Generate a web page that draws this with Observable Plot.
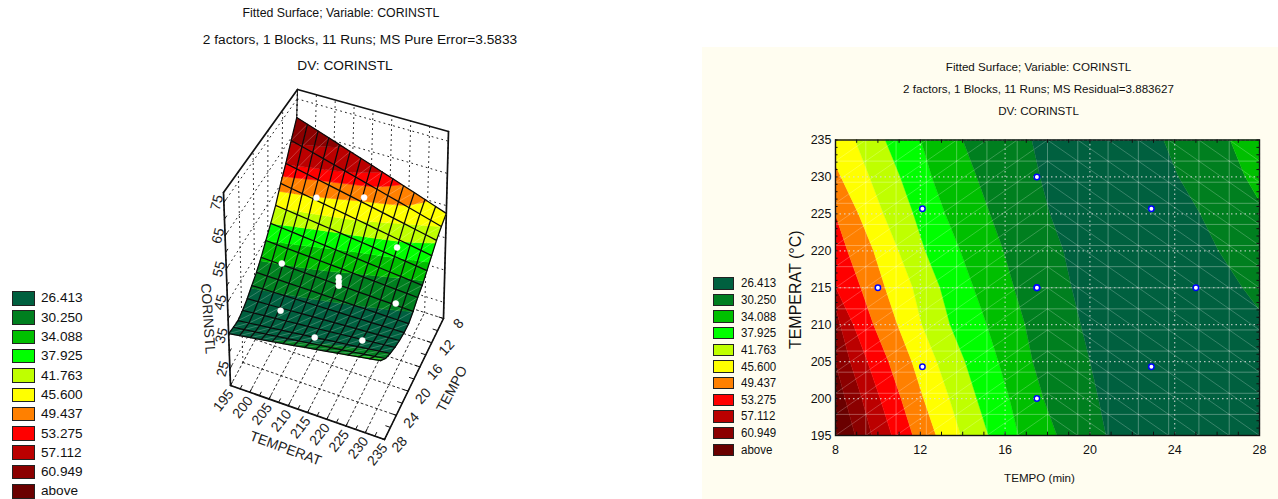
<!DOCTYPE html>
<html><head><meta charset="utf-8">
<script src="https://cdn.jsdelivr.net/npm/d3@7"></script>
<script src="https://cdn.jsdelivr.net/npm/@observablehq/plot@0.6"></script>
<style>
html,body{margin:0;padding:0;background:#fff;width:1278px;height:499px;overflow:hidden;font-family:"Liberation Sans",Arial,sans-serif;color:#111}
#root{position:relative;width:1278px;height:499px;overflow:hidden}
#panel{position:absolute;left:702px;top:47px;width:576px;height:452px;background:#fffdf0}
.t{position:absolute;white-space:nowrap;transform:translateX(-50%);line-height:1}
.sw{position:absolute;box-sizing:border-box;border:1.5px solid #222}
.lg{position:absolute;white-space:nowrap;line-height:1}
svg{position:absolute;overflow:visible}
</style></head><body><div id="root"><div id="panel"></div></div>
<script>
// ---------- shared legend ----------
const legendLabels = ["26.413","30.250","34.088","37.925","41.763","45.600","49.437","53.275","57.112","60.949","above"];
const bandColors = ["#00603f","#007f1f","#00bf00","#00ff00","#bfff00","#ffff00","#ff8000","#ff0000","#bb0000","#8b0000","#6a0000"];

// ---------- titles ----------
const titleLeft = ["Fitted Surface; Variable: CORINSTL","2 factors, 1 Blocks, 11 Runs; MS Pure Error=3.5833","DV: CORINSTL"];
const titleRight = ["Fitted Surface; Variable: CORINSTL","2 factors, 1 Blocks, 11 Runs; MS Residual=3.883627","DV: CORINSTL"];

// ---------- design points ----------
const pointTempo = [10,12.1,17.5,22.9,17.5,17.5,17.5,25,12.1,22.9,17.5];
const pointTemp  = [215,225.7,230,225.7,215,215,215,215,204.3,204.3,200];
const pointValue = [54,45.9,39.7,36.4,42.2,40.9,39.7,36.9,53.8,37.4,41];

// ---------- contour map: tempo of each band edge at these temperatures ----------
const contourTemps = [195,200,205,210,215,220,225,230,235];
const edgeAbove  = [8.94,8.47,8.0,7.53,7.06,6.6,6.1,5.6,5.2];
const edge60     = [9.73,9.26,8.71,8.24,7.76,7.3,6.8,6.35,5.9];
const edge57     = [10.67,10.12,9.53,8.86,8.03,7.45,6.82,6.19,5.56];
const edge53     = [11.66,11.11,10.52,9.81,9.21,8.58,8.0,7.37,6.74];
const edge49     = [12.76,12.17,11.62,10.94,10.36,9.81,9.1,8.27,7.45];
const edge45     = [13.93,13.39,12.8,12.09,11.66,10.99,10.28,9.62,8.94];
const edge41     = [15.23,14.68,14.13,13.42,12.95,12.25,11.69,11.07,10.36];
const edge37     = [16.65,16.22,15.7,15.15,14.53,13.9,13.19,12.56,12.04];
const edge34     = [18.46,17.83,17.32,16.96,16.44,15.94,15.31,14.68,14.02];
const edge30     = [20.78,20.42,20.03,19.59,19.16,18.77,18.14,17.67,17.28];
const edge26R    = [32.3,31.03,29.78,28.52,27.21,26.08,25.22,24.2,23.49];
const edge30R    = [35.75,34.18,32.6,31.5,30.56,29.46,28.36,27.34,26.63];
const farLeft = contourTemps.map(() => 0), farRight = contourTemps.map(() => 45);
const contourBands = [
  [farLeft,edgeAbove,10],[edgeAbove,edge60,9],[edge60,edge57,8],[edge57,edge53,7],[edge53,edge49,6],
  [edge49,edge45,5],[edge45,edge41,4],[edge41,edge37,3],[edge37,edge34,2],[edge34,edge30,1],
  [edge30,edge26R,0],[edge26R,edge30R,1],[edge30R,farRight,2]
];

// ---------- 3D surface: height on each TEMPO row (8 → 28) at both TEMPERAT ends ----------
const surfaceHeight195 = [69,64.1,59.2,55.3,50.8,47.6,44.7,41.9,39.7,38.1,36.5,35.4,34.7,35.1,35.6];
const surfaceHeight235 = [52.6,51,49.2,47,44.9,42.9,41.7,40,38.8,38.6,38.7,39.1,39.7,40.6,42.3];
const surfaceShade195  = [69,64.1,59.2,55.3,50.8,47.6,44.7,41.9,39.7,38.1,36.5,35.4,34.7,35.1,35.6];
const surfaceShade235  = [51.5,50.4,48,45.8,43.3,40.6,39,37.8,36.7,36,36,36.8,38,40.5,44];
const surfaceLevels = [37.8,41.4,44.7,47.6,50.4,53.7,56.7,59,63.5];
const surfaceBandColors = bandColors.slice(0,10);

// ---------- axes ----------
const tempoTicks = [8,12,16,20,24,28];
const tempTicks = [195,200,205,210,215,220,225,230,235];
const valueTicks = [25,35,45,55,65,75];
const axisFloor = 20, axisTop = 78;

// ---------- helpers ----------
const root = document.getElementById("root");
const font = '"Liberation Sans",Arial,sans-serif';
function addText(parent, lines, cxs, ys, size, stretches){
  lines.forEach((s,i)=>{const d=document.createElement("div");d.className="t";d.textContent=s;
    d.style.left=cxs[i]+"px";d.style.top=ys[i]+"px";d.style.fontSize=size+"px";
    d.style.transform=`translateX(-50%) scaleX(${stretches[i]})`;parent.appendChild(d);});
}
function addLegend(x,w,yTop,h,pitch,tx,size,stretch){
  legendLabels.forEach((s,i)=>{
    const b=document.createElement("div");b.className="sw";
    Object.assign(b.style,{left:x+"px",top:(yTop+i*pitch)+"px",width:w+"px",height:h+"px",background:bandColors[i]});
    root.appendChild(b);
    const l=document.createElement("div");l.className="lg";l.textContent=s;
    Object.assign(l.style,{left:tx+"px",top:(yTop+i*pitch+h/2-size/2)+"px",fontSize:size+"px",transform:`scaleX(${stretch})`,transformOrigin:"left center"});
    root.appendChild(l);
  });
}
addText(root,titleLeft,[341,360,345],[6,32.5,58.5],13.7,[0.9,1,1]);
addText(root,titleRight,[1038.5,1038.5,1038.5],[61,82.5,105],11.6,[1,1,1]);
addLegend(12,23,291,14.5,19.3,41,13.6,1);
addLegend(713,21,277,12.5,16.65,741,12,0.96);

// ---------- 3D box projection ----------
const corner = {A:[230,385],B:[384,439],C:[443,318],D:[292,270],E:[223,192],F:[297,89],G:[448,131],H:[374,234]};
const mix=(a,b,f)=>a+(b-a)*f;
function project(temp,tempo,value){
  const u=(temp-195)/40,s=(28-tempo)/20,h=(value-axisFloor)/(axisTop-axisFloor);
  const at=i=>{
    const base=mix(mix(corner.A[i],corner.D[i],s),mix(corner.B[i],corner.C[i],s),u);
    const top =mix(mix(corner.E[i],corner.F[i],s),mix(corner.H[i],corner.G[i],s),u);
    return mix(base,top,h);
  };
  return {x:at(0),y:at(1)};
}
let segId=0;
const seg=(p,q)=>{segId++;return [{...project(...p),id:segId},{...project(...q),id:segId}];};

// walls
const wallLines=[];
for(const v of valueTicks){wallLines.push(...seg([195,28,v],[195,8,v]),...seg([195,8,v],[235,8,v]));}
for(const t of tempoTicks) wallLines.push(...seg([195,t,axisFloor],[195,t,axisTop]));
for(const T of tempTicks) wallLines.push(...seg([T,8,axisFloor],[T,8,axisTop]));
const floorLines=[];
for(const t of tempoTicks) floorLines.push(...seg([195,t,axisFloor],[235,t,axisFloor]));
for(const T of tempTicks) floorLines.push(...seg([T,28,axisFloor],[T,8,axisFloor]));
const boxLines=[
  ...seg([195,28,axisFloor],[235,28,axisFloor]),...seg([235,28,axisFloor],[235,8,axisFloor]),
  ...seg([195,28,axisFloor],[195,28,axisTop]),...seg([195,28,axisTop],[195,8,axisTop]),
  ...seg([195,8,axisTop],[235,8,axisTop]),...seg([235,8,axisTop],[235,8,axisFloor])
];
const backEdge=seg([195,8,axisFloor],[195,8,axisTop]);
const tickLines=[];
for(let T=195;T<=235;T+=2.5) tickLines.push(...seg([T,28,axisFloor],[T,27.4,axisFloor]));
for(let t=8;t<=28;t+=2) tickLines.push(...seg([235,t,axisFloor],[233.8,t,axisFloor]));
for(let v=25;v<=75;v+=5) tickLines.push(...seg([195,28,v],[195,27.4,v]));

// surface mesh
const rows=surfaceHeight195.length-1, cols=14;
const vertex=(j,k)=>{const u=j/cols;return {
  temp:195+40*u, tempo:8+20*k/rows,
  h:mix(surfaceHeight195[k],surfaceHeight235[k],u),
  v:mix(surfaceShade195[k],surfaceShade235[k],u)};};
const lerpV=(a,b,f)=>({temp:mix(a.temp,b.temp,f),tempo:mix(a.tempo,b.tempo,f),h:mix(a.h,b.h,f),v:mix(a.v,b.v,f)});
function clip(poly,level,above){
  const out=[];
  poly.forEach((p,i)=>{
    const q=poly[(i+1)%poly.length];
    const pin=above?p.v>=level:p.v<=level, qin=above?q.v>=level:q.v<=level;
    if(pin) out.push(p);
    if(pin!==qin) out.push(lerpV(p,q,(level-p.v)/(q.v-p.v)));
  });
  return out;
}
const surfacePieces=surfaceBandColors.map(()=>[]);
let pieceId=0;
for(let k=0;k<rows;k++)for(let j=0;j<cols;j++){
  const quad=[vertex(j,k),vertex(j+1,k),vertex(j+1,k+1),vertex(j,k+1)];
  surfaceBandColors.forEach((c,b)=>{
    let poly=quad;
    if(b>0) poly=clip(poly,surfaceLevels[b-1],true);
    if(poly.length&&b<surfaceLevels.length) poly=clip(poly,surfaceLevels[b],false);
    if(poly.length>2){pieceId++;poly.forEach(p=>surfacePieces[b].push({...project(p.temp,p.tempo,p.h),id:pieceId}));}
  });
}
const meshLines=[],meshDiag=[];
for(let k=0;k<=rows;k++)for(let j=0;j<=cols;j++){
  const p=vertex(j,k),P=project(p.temp,p.tempo,p.h);
  meshLines.push({...P,id:"r"+k,o:j},{...P,id:"c"+j,o:k});
}
const meshSorted=d3.sort(meshLines,d=>d.id,d=>d.o);
for(let k=0;k<rows;k++)for(let j=0;j<cols;j++){
  const a=vertex(j,k+1),b=vertex(j+1,k);segId++;
  meshDiag.push({...project(a.temp,a.tempo,a.h),id:segId},{...project(b.temp,b.tempo,b.h),id:segId});
}
const surfacePoints=pointTemp.map((T,i)=>project(T,pointTempo[i],pointValue[i]));

// labels
const textStyle={fontFamily:font,fill:"#222",fontSize:14,stroke:"none"};
const at=(T,t,v)=>project(T,t,v);
const tempLabels=tempTicks.map(T=>({...at(T,28,axisFloor),s:String(T)}));
const tempoLabels=tempoTicks.map(t=>({...at(235,t,axisFloor),s:String(t)}));
const valueLabels=valueTicks.map(v=>({...at(195,28,v),s:String(v)}));
const titleTemp={...at(215,28,axisFloor),s:"TEMPERAT"};
const titleTempo={...at(235,18,axisFloor),s:"TEMPO"};
const titleValue={...at(195,28,50),s:"CORINSTL"};

const px=[0,700],py=[0,499];
const left=Plot.plot({
  width:700,height:499,margin:0,
  x:{domain:px,range:px,axis:null},y:{domain:py,range:py,axis:null},
  style:{background:"transparent",fontFamily:font,left:"0",top:"0"},
  marks:[
    Plot.line(wallLines,{x:"x",y:"y",z:"id",stroke:"#222",strokeWidth:1,strokeDasharray:"1,4"}),
    Plot.line(floorLines,{x:"x",y:"y",z:"id",stroke:"#111",strokeWidth:0.9,strokeDasharray:"2,3"}),
    Plot.line(backEdge,{x:"x",y:"y",stroke:"#111",strokeWidth:1}),
    Plot.line(tickLines,{x:"x",y:"y",z:"id",stroke:"#111",strokeWidth:1}),
    Plot.line(boxLines,{x:"x",y:"y",z:"id",stroke:"#111",strokeWidth:1.7}),
    ...surfaceBandColors.map((c,b)=>Plot.line(surfacePieces[b],{x:"x",y:"y",z:"id",fill:c,stroke:c,strokeWidth:0.6})),
    Plot.line(meshDiag,{x:"x",y:"y",z:"id",stroke:"#fff",strokeOpacity:0.28,strokeWidth:0.8}),
    Plot.line(meshSorted,{x:"x",y:"y",z:"id",stroke:"#0a0a0a",strokeWidth:1.25}),
    Plot.dot(surfacePoints,{x:"x",y:"y",r:3,fill:"#fff",stroke:"#fff",strokeWidth:0.5}),
    Plot.text(tempLabels,{x:"x",y:"y",text:"s",dx:-7,dy:15,rotate:-52,...textStyle}),
    Plot.text(tempoLabels,{x:"x",y:"y",text:"s",dx:15,dy:5,rotate:-48,...textStyle}),
    Plot.text(valueLabels,{x:"x",y:"y",text:"s",dx:-7,dy:0,rotate:-75,...textStyle}),
    Plot.text([titleTemp],{x:"x",y:"y",text:"s",dx:-22,dy:36,rotate:20,...textStyle}),
    Plot.text([titleTempo],{x:"x",y:"y",text:"s",dx:38,dy:10,rotate:-62,...textStyle}),
    Plot.text([titleValue],{x:"x",y:"y",text:"s",dx:-19,dy:33,rotate:86,...textStyle})
  ]
});
root.appendChild(left);

// ---------- contour map ----------
const contourRows=contourBands.map(([lo,hi,c],b)=>({c:bandColors[c],rows:contourTemps.map((T,i)=>({T,lo:lo[i],hi:hi[i]}))}));
const meshTempos=d3.range(15).map(i=>8+20*i/14);
const meshTemps=d3.range(15).map(i=>195+40*i/14);
const diag=[];
let did=0;
for(let i=0;i<14;i++)for(let j=0;j<14;j++){
  did++;
  if(meshTempos[i]<17.9){diag.push({x:meshTempos[i],y:meshTemps[j],id:did},{x:meshTempos[i+1],y:meshTemps[j+1],id:did});}
  else{diag.push({x:meshTempos[i],y:meshTemps[j+1],id:did},{x:meshTempos[i+1],y:meshTemps[j],id:did});}
}
const right=Plot.plot({
  width:576,height:452,marginLeft:133,marginRight:19,marginTop:92.5,marginBottom:64,
  x:{domain:[8,28]},y:{domain:[195,235]},
  style:{background:"transparent",fontFamily:font,left:"702px",top:"47px"},
  marks:[
    ...contourRows.map(b=>Plot.areaX(b.rows,{y:"T",x1:"lo",x2:"hi",fill:b.c,stroke:b.c,strokeWidth:0.4,clip:true})),
    Plot.ruleX(meshTempos,{stroke:"#fff",strokeOpacity:0.3,strokeWidth:1}),
    Plot.ruleY(meshTemps,{stroke:"#fff",strokeOpacity:0.3,strokeWidth:1}),
    Plot.line(diag,{x:"x",y:"y",z:"id",stroke:"#fff",strokeOpacity:0.28,strokeWidth:0.8}),
    Plot.ruleX(tempoTicks,{stroke:"#ddd",strokeWidth:1.2,strokeOpacity:0.8,strokeDasharray:"1.5,3"}),
    Plot.ruleY(tempTicks,{stroke:"#ddd",strokeWidth:1.2,strokeOpacity:0.8,strokeDasharray:"1.5,3"}),
    Plot.ruleX(d3.range(8,29),{x:d=>d,y1:195,y2:195.45,stroke:"#111"}),
    Plot.ruleX(d3.range(8,29),{x:d=>d,y1:234.55,y2:235,stroke:"#111"}),
    Plot.ruleY(d3.range(195,236),{y:d=>d,x1:8,x2:8.12,stroke:"#111"}),
    Plot.ruleY(d3.range(195,236),{y:d=>d,x1:27.88,x2:28,stroke:"#111"}),
    Plot.frame({stroke:"#111",strokeWidth:1.4}),
    Plot.dot(pointTempo.map((t,i)=>({t,T:pointTemp[i]})),{x:"t",y:"T",r:2.7,fill:"#fff",stroke:"#0000ff",strokeWidth:1.5}),
    Plot.axisX(tempoTicks,{tickSize:0,tickPadding:10,fontSize:12.5,label:null,tickFormat:d=>d}),
    Plot.axisY(tempTicks,{tickSize:0,tickPadding:4,fontSize:12.5,label:null,tickFormat:d=>d}),
    Plot.text(["TEMPO (min)"],{frameAnchor:"bottom",dx:-8,dy:46,fontSize:11.6,fill:"#111",fontFamily:font}),
    Plot.text(["TEMPERAT (°C)"],{frameAnchor:"left",textAnchor:"middle",dx:-40,dy:2,rotate:-90,fontSize:16,fill:"#111",fontFamily:font})
  ]
});
root.appendChild(right);
</script></body></html>
